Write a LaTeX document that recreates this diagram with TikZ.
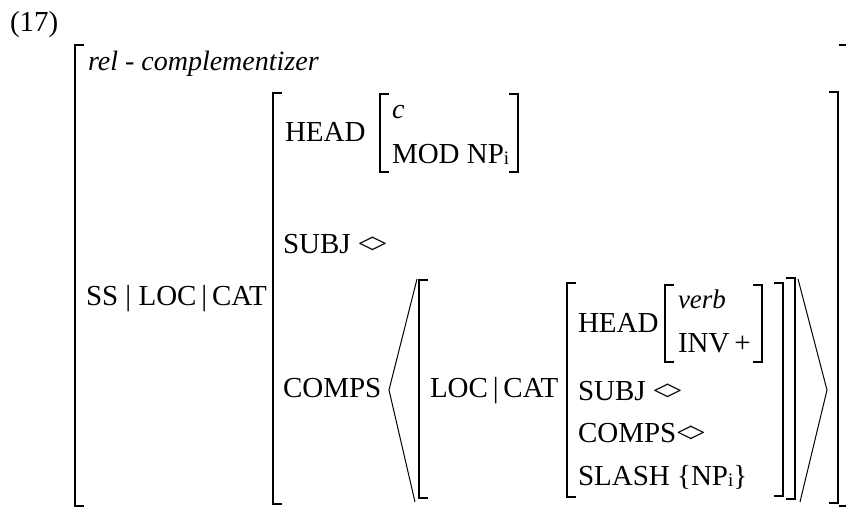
\documentclass[tikz,border=0pt]{standalone}
\usepackage{fontspec}
\setmainfont{Liberation Serif}
\usepackage{tikz}

% small lowered index letter, as in NP_i
\newcommand{\idx}[1]{\raisebox{-1.5pt}{\fontsize{19}{19}\selectfont #1}}
% empty list written as two touching chevrons
\newcommand{\elist}{<\kern-0.12em>}

\begin{document}
\begin{tikzpicture}[
  x=1pt, y=-1pt,
  font=\fontsize{29}{33}\selectfont,
  lbl/.style={anchor=base west, inner sep=0pt, outer sep=0pt},
  typ/.style={lbl, font=\fontsize{28}{32}\selectfont\itshape},
  brk/.style={line width=1.3pt, line cap=butt, line join=miter},
  ang/.style={line width=1pt, line join=miter},
]
  \useasboundingbox (0,0) rectangle (846,507);
  \clip (0,0) rectangle (846,507);

  % example number and type of the whole sign
  \node[lbl] (num) at (10,31) {(17)};
  \node[typ] (type) at (88,70) {rel - complementizer};
  \node[lbl] (path) at (86,305) {SS | LOC\,|\,CAT};

  % outer matrix
  \draw[brk] (84,45) -- (75,45) -- (75,506) -- (84,506);
  \draw[brk] (839,45) -- (848,45) -- (848,506) -- (839,506);

  % CAT value
  \draw[brk] (282,93) -- (273,93) -- (273,504) -- (282,504);
  \draw[brk] (829,92) -- (838,92) -- (838,503) -- (829,503);

  \node[lbl] (head) at (285,141) {HEAD};
  \draw[brk] (389,94) -- (380,94) -- (380,172) -- (389,172);
  \draw[brk] (509,94) -- (518,94) -- (518,172) -- (509,172);
  \node[typ] (htype) at (392,118) {c};
  \node[lbl] (mod) at (392,163) {MOD NP\idx{i}};

  \node[lbl] (subj) at (283,253) {SUBJ \elist};
  \node[lbl] (comps) at (283,397) {COMPS};

  % list of complements
  \draw[ang] (417,279) -- (389,390) -- (415,502);
  \draw[ang] (798,279) -- (827,390) -- (800,502);

  % the single complement
  \draw[brk] (428,280) -- (419,280) -- (419,498) -- (428,498);
  \draw[brk] (786,278) -- (795,278) -- (795,499) -- (786,499);
  \node[lbl] (cpath) at (430,397) {LOC\,|\,CAT};

  \draw[brk] (576,283) -- (567,283) -- (567,497) -- (576,497);
  \draw[brk] (774,283) -- (783,283) -- (783,496) -- (774,496);
  \node[lbl] (chead) at (578,332) {HEAD};
  \draw[brk] (674,285) -- (665,285) -- (665,362) -- (674,362);
  \draw[brk] (753,285) -- (762,285) -- (762,362) -- (753,362);
  \node[typ, font=\fontsize{27}{31}\selectfont\itshape] (ctype) at (678,308) {verb};
  \node[lbl] (inv) at (678,352) {INV\,+};
  \node[lbl] (csubj) at (578,400) {SUBJ \elist};
  \node[lbl] (ccomps) at (578,442) {COMPS\elist};
  \node[lbl] (slash) at (578,485) {SLASH \{NP\idx{i}\}};
\end{tikzpicture}
\end{document}
